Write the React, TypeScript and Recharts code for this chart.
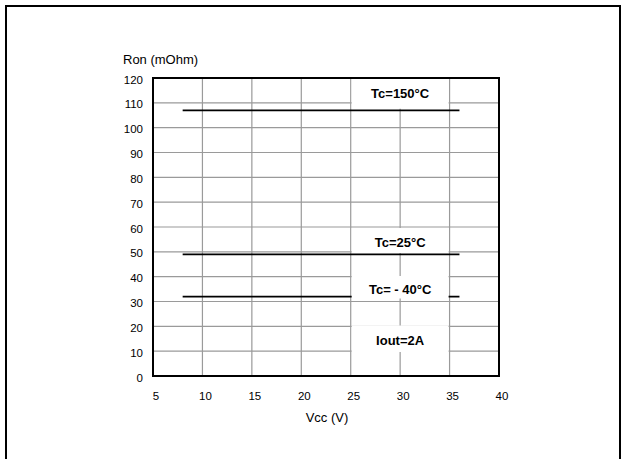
import React from "react";
import {
  LineChart,
  Line,
  XAxis,
  YAxis,
  CartesianGrid,
  ReferenceArea,
} from "recharts";

// ─── Data ─────────────────────────────────────────────────────────────────────

const vcc = [8, 36];
const ron150 = [107, 107];
const ron25 = [49, 49];
const ronM40 = [32, 32];

const xTicks = [5, 10, 15, 20, 25, 30, 35, 40];
const yTicks = [0, 10, 20, 30, 40, 50, 60, 70, 80, 90, 100, 110, 120];

const chartData = vcc.map((v, i) => ({
  vcc: v,
  t150: ron150[i],
  t25: ron25[i],
  tm40: ronM40[i],
}));

const FONT = '"Liberation Sans", Arial, Helvetica, sans-serif';

// ─── Ticks / labels ───────────────────────────────────────────────────────────

// eslint-disable-next-line @typescript-eslint/no-explicit-any
function YTick(props: any) {
  const { x, y, payload } = props;
  return (
    <text x={x - 10} y={y + 5.6} textAnchor="end" fontSize={11.5} fontFamily={FONT} fill="#000">
      {payload.value}
    </text>
  );
}

// eslint-disable-next-line @typescript-eslint/no-explicit-any
function XTick(props: any) {
  const { x, y, payload } = props;
  return (
    <text x={x + 3} y={y + 24} textAnchor="middle" fontSize={11.5} fontFamily={FONT} fill="#000">
      {payload.value}
    </text>
  );
}

// eslint-disable-next-line @typescript-eslint/no-explicit-any
function boxText(text: string, dy: number) {
  // eslint-disable-next-line @typescript-eslint/no-explicit-any
  return (props: any) => {
    const vb = props.viewBox;
    return (
      <text
        x={vb.x + vb.width / 2}
        y={vb.y + vb.height / 2 + 4.6 + dy}
        textAnchor="middle"
        fontSize={13}
        fontWeight="bold"
        fontFamily={FONT}
        fill="#000"
      >
        {text}
      </text>
    );
  };
}

// ─── Component ────────────────────────────────────────────────────────────────

export default function App() {
  return (
    <div
      style={{
        position: "absolute",
        left: 0,
        top: 0,
        width: 622,
        height: 459,
        overflow: "hidden",
        background: "#fff",
      }}
    >
      {/* outer frame */}
      <div
        style={{
          position: "absolute",
          left: 5,
          top: 5,
          width: 612,
          height: 470,
          borderTop: "2px solid #000",
          borderLeft: "2px solid #000",
          borderRight: "2px solid #000",
        }}
      />
      <div style={{ position: "absolute", left: 0, top: 0 }}>
        <LineChart
          width={622}
          height={459}
          data={chartData}
          margin={{ top: 78, right: 123, left: 93, bottom: 43 }}
        >
          <CartesianGrid stroke="#9a9a9a" strokeWidth={1.2} />
          <XAxis
            dataKey="vcc"
            type="number"
            domain={[5, 40]}
            ticks={xTicks}
            height={40}
            tickSize={0}
            tickMargin={0}
            tickLine={false}
            axisLine={false}
            tick={<XTick />}
            label={{
              content: (p: any) => (
                <text
                  x={p.viewBox.x + p.viewBox.width / 2 + 1}
                  y={p.viewBox.y + 46.4}
                  textAnchor="middle"
                  fontSize={13}
                  fontFamily={FONT}
                  fill="#000"
                >
                  Vcc (V)
                </text>
              ),
            }}
          />
          <YAxis
            type="number"
            domain={[0, 120]}
            ticks={yTicks}
            width={60}
            tickSize={0}
            tickMargin={0}
            tickLine={false}
            axisLine={false}
            tick={<YTick />}
            label={{
              content: (p: any) => (
                <text
                  x={p.viewBox.x + 30}
                  y={p.viewBox.y - 14.5}
                  textAnchor="start"
                  fontSize={13}
                  fontFamily={FONT}
                  fill="#000"
                >
                  Ron (mOhm)
                </text>
              ),
            }}
          />
          <ReferenceArea x1={5} x2={40} y1={0} y2={120} fill="none" stroke="#000" strokeWidth={2} />
          <Line dataKey="t150" stroke="#000" strokeWidth={1.8} dot={false} isAnimationActive={false} />
          <Line dataKey="t25" stroke="#000" strokeWidth={1.8} dot={false} isAnimationActive={false} />
          <Line dataKey="tm40" stroke="#000" strokeWidth={1.8} dot={false} isAnimationActive={false} />
          {/* white label boxes */}
          <ReferenceArea
            x1={25.1}
            x2={34.9}
            y1={107.6}
            y2={119.6}
            fill="#fff"
            fillOpacity={1}
            stroke="none"
            zIndex={1000}
            label={{ content: boxText("Tc=150°C", 0) }}
          />
          <ReferenceArea
            x1={25.1}
            x2={34.9}
            y1={49.5}
            y2={59.6}
            fill="#fff"
            fillOpacity={1}
            stroke="none"
            zIndex={1000}
            label={{ content: boxText("Tc=25°C", 2) }}
          />
          <ReferenceArea
            x1={25.1}
            x2={34.9}
            y1={31.2}
            y2={40.3}
            fill="#fff"
            fillOpacity={1}
            stroke="none"
            zIndex={1000}
            label={{ content: boxText("Tc= - 40°C", 2) }}
          />
          <ReferenceArea
            x1={25.1}
            x2={34.9}
            y1={9.7}
            y2={20.3}
            fill="#fff"
            fillOpacity={1}
            stroke="none"
            zIndex={1000}
            label={{ content: boxText("Iout=2A", 2) }}
          />
        </LineChart>
      </div>
    </div>
  );
}
